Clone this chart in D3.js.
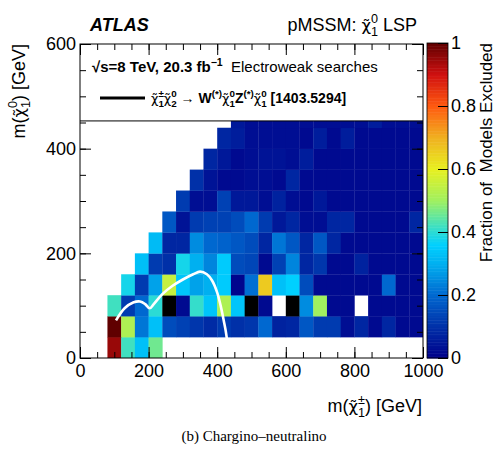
<!DOCTYPE html>
<html>
<head>
<meta charset="utf-8">
<script src="https://cdn.jsdelivr.net/npm/d3@7"></script>
<style>
  body { margin: 0; background: #fff; }
  text { font-family: "Liberation Sans", Arial, sans-serif; white-space: pre; }
</style>
</head>
<body>
<svg id="chart" width="498" height="451"></svg>
<script>
const _ = null;   // empty bin (white)
const K = -1;     // bin drawn black in the original

// lower edges of the 40 GeV bins
const binX = [0,40,80,120,160,200,240,280,320,360,400,440,480,520,560,600,640,680,720,760,800,840,880,920,960];
const binY = [0,40,80,120,160,200,240,280,320,360,400,440];

// fraction of models excluded, one array per m(chi1^0) bin
const row0   = [_,_,.95,.42,.33,.46,_,_,_,_,_,_,_,_,_,_,_,_,_,_,_,_,_,_,_];
const row40  = [_,_,1.0,.52,.22,.33,.15,.13,.11,.09,.12,.10,.11,.20,.07,.08,.17,.12,.12,.03,.08,.02,.08,.02,.02];
const row80  = [_,_,.42,.12,.20,.40,K,.02,.41,.34,.52,.34,K,.02,_,K,.25,.50,.02,.02,_,.02,.02,.02,.02];
const row120 = [_,_,_,.38,.12,.28,.55,.34,.28,.30,.35,.01,.21,.66,.33,.36,.15,.02,.02,.02,.02,.02,.20,.02,.02];
const row160 = [_,_,_,_,.33,.12,.10,.38,.30,.24,.35,.15,.14,.02,.13,.24,.08,.11,.02,.02,.07,.02,.02,.02,.02];
const row200 = [_,_,_,_,_,.32,.08,.08,.25,.20,.19,.17,.15,.08,.22,.17,.08,.17,.08,.02,.02,.02,.02,.02,.02];
const row240 = [_,_,_,_,_,_,.17,.04,.12,.13,.13,.15,.20,.12,.05,.08,.03,.03,.08,.08,.02,.02,.02,.02,.08];
const row280 = [_,_,_,_,_,_,_,.12,.03,.03,.13,.05,.05,.03,.07,.03,.02,.05,.02,.02,.02,.02,.02,.02,.02];
const row320 = [_,_,_,_,_,_,_,_,.10,.04,.02,.02,.03,.03,.02,.08,.02,.02,.02,.02,.02,.02,.02,.02,.02];
const row360 = [_,_,_,_,_,_,_,_,_,.08,.05,.02,.03,.04,.04,.03,.06,.02,.02,.02,.02,.02,.02,.02,.02];
const row400 = [_,_,_,_,_,_,_,_,_,_,.08,.06,.03,.03,.03,.03,.02,.06,.02,.06,.02,.02,.02,.02,.02];
const row440 = [_,_,_,_,_,_,_,_,_,_,_,.05,.03,.03,.03,.03,.03,.03,.03,.03,.03,.06,.03,.03,.03];
const rows = [row0,row40,row80,row120,row160,row200,row240,row280,row320,row360,row400,row440];

// chi1+- chi2^0 -> W Z limit contour [1403.5294]
const limitM1 = [105,130,155,175,190,203,215,240,270,300,330,350,370,385,400,410,418,424,428];
const limitM0 = [72,95,106,108,103,95,103,122,138,150,160,165,160,148,125,100,75,55,38];

const xMajor = [0,200,400,600,800,1000];
const yMajor = [0,200,400,600];
const zTicks = [0,0.2,0.4,0.6,0.8,1];

const svg = d3.select('#chart');
const L = 80, R = 423, T = 44, B = 358;

const x = d3.scaleLinear().domain([0,1000]).range([L,R]);
const y = d3.scaleLinear().domain([0,600]).range([B,T]);
const z = d3.scaleLinear()
  .domain([0,.1,.2,.3,.36,.42,.5,.6,.7,.8,.9,1])
  .range(['#00008a','#0030a8','#0068d0','#00b0f0','#00d0ff','#40e0c0','#a0f060','#e8f020','#f0b020','#ff5a10','#d01010','#600000'])
  .clamp(true);

svg.append('clipPath').attr('id','plotClip')
  .append('rect').attr('x',L).attr('y',T).attr('width',R-L).attr('height',B-T);

// bins
const cells = [];
rows.forEach((r,i) => r.forEach((v,j) => { if (v !== null) cells.push({x0: binX[j], y0: binY[i], v}); }));
const bw = 40;

svg.append('g').attr('clip-path','url(#plotClip)')
  .selectAll('rect').data(cells).enter().append('rect')
  .attr('x', d => x(d.x0))
  .attr('y', d => y(d.y0 + bw))
  .attr('width', d => x(d.x0 + bw) - x(d.x0) + 0.3)
  .attr('height', d => y(d.y0) - y(d.y0 + bw) + 0.3)
  .attr('fill', d => d.v === K ? '#000' : z(d.v));

// limit contour
svg.append('path')
  .datum(limitM1.map((m,i) => [m, limitM0[i]]))
  .attr('fill','none').attr('stroke','#fff').attr('stroke-width',2.6)
  .attr('d', d3.line().x(d => x(d[0])).y(d => y(d[1])).curve(d3.curveCatmullRom));

// legend box
const legBottom = y(453);
svg.append('rect').attr('x',L).attr('y',T).attr('width',R-L).attr('height',legBottom-T)
  .attr('fill','#fff');
svg.append('line').attr('x1',L).attr('x2',R).attr('y1',legBottom).attr('y2',legBottom)
  .attr('stroke','#000').attr('stroke-width',1);

// text with sub/superscripts: parts are [text, 'sub'|'sup'|'', dx in em, 'chi']
function rich(sel, px, py, parts, size, weight) {
  const t = sel.append('text').attr('x',px).attr('y',py)
    .style('font-size', size+'px').style('font-weight', weight || 'normal');
  let shift = 0;
  parts.forEach(p => {
    const s = p[1] || '';
    const target = s === 'sub' ? 0.3*size : s === 'sup' ? -0.42*size : 0;
    const ts = t.append('tspan').attr('dy', target - shift).text(p[0]);
    if (s) ts.style('font-size', (size*0.7)+'px');
    if (p[2]) ts.attr('dx', p[2]*size);
    if (p[3] === 'chi') ts.style('font-family','"DejaVu Sans", sans-serif').style('font-size', (size*0.92)+'px')
      .style('font-weight','normal');
    shift = target;
  });
  return t;
}
const chi = ['χ\u0303', '', 0, 'chi'];

// axes: ticks inside, on all four sides
function ticksX(gen, yy, len, vals, labels) {
  const g = svg.append('g').attr('transform', `translate(0,${yy})`)
    .call(gen(x).tickValues(vals).tickSize(len).tickPadding(6).tickFormat(labels ? d => d : ''));
  g.select('.domain').remove();
  g.selectAll('text').style('font-size','18px').style('font-family','Liberation Sans, Arial, sans-serif');
}
function ticksY(gen, xx, len, vals, labels) {
  const g = svg.append('g').attr('transform', `translate(${xx},0)`)
    .call(gen(y).tickValues(vals).tickSize(len).tickPadding(4).tickFormat(labels ? d => d : ''));
  g.select('.domain').remove();
  g.selectAll('text').style('font-size','18px').style('font-family','Liberation Sans, Arial, sans-serif');
}
const xMinor = d3.range(0,1001,50), yMinor = d3.range(0,601,50);
ticksX(d3.axisBottom, B, -11, xMajor, true);
ticksX(d3.axisBottom, B, -6, xMinor, false);
ticksX(d3.axisTop, T, -11, xMajor, false);
ticksX(d3.axisTop, T, -6, xMinor, false);
ticksY(d3.axisLeft, L, -11, yMajor, true);
ticksY(d3.axisLeft, L, -6, yMinor, false);
ticksY(d3.axisRight, R, -11, yMajor, false);
ticksY(d3.axisRight, R, -6, yMinor, false);

svg.append('rect').attr('x',L).attr('y',T).attr('width',R-L).attr('height',B-T)
  .attr('fill','none').attr('stroke','#000').attr('stroke-width',1);

// colour bar
const cbL = 427, cbR = 448;
const zy = d3.scaleLinear().domain([0,1]).range([B,T-1]);
svg.append('g').selectAll('rect').data(d3.range(0,1,0.005)).enter().append('rect')
  .attr('x',cbL).attr('width',cbR-cbL)
  .attr('y', d => zy(d+0.005)).attr('height', d => zy(d) - zy(d+0.005) + 0.5)
  .attr('fill', d => z(d+0.0025));
svg.append('rect').attr('x',cbL).attr('y',zy(1)).attr('width',cbR-cbL).attr('height',B-zy(1))
  .attr('fill','none').attr('stroke','#000').attr('stroke-width',0.8);
const zg = svg.append('g').attr('transform',`translate(${cbR},0)`)
  .call(d3.axisRight(zy).tickValues(zTicks).tickSize(-10).tickPadding(3).tickFormat(d => String(d)));
zg.select('.domain').remove();
zg.selectAll('text').style('font-size','18px').style('font-family','Liberation Sans, Arial, sans-serif');

// titles
svg.append('text').attr('x',90).attr('y',31).text('ATLAS')
  .style('font-size','18px').style('font-weight','bold').style('font-style','italic');
rich(svg, 417, 31, [['pMSSM: '],chi,['1','sub'],['0','sup',-0.39],[' LSP']], 18)
  .attr('text-anchor','end');

rich(svg, 0, 0, [['m('],chi,['1','sub'],['0','sup',-0.39],[') [GeV]']], 18)
  .attr('text-anchor','end').attr('transform','translate(25,44) rotate(-90)');
rich(svg, 422, 412, [['m('],chi,['1','sub'],['±','sup',-0.39],[') [GeV]']], 18)
  .attr('text-anchor','end');
svg.append('text').attr('transform','translate(492,43) rotate(-90)')
  .attr('text-anchor','end').style('font-size','17px').text('Fraction of  Models Excluded');

// legend contents
rich(svg, 92, 72, [['√s=8 TeV, 20.3 fb'],['−1','sup']], 15, 'bold');
svg.append('text').attr('x',231).attr('y',72).style('font-size','15px').text('Electroweak searches');
svg.append('line').attr('x1',100).attr('x2',145).attr('y1',98).attr('y2',98)
  .attr('stroke','#000').attr('stroke-width',3);
rich(svg, 151, 103, [
  chi,['1','sub'],['±','sup',-0.39],chi,['2','sub'],['0','sup',-0.39],
  [' → W'],['(*)','sup'],chi,['1','sub'],['0','sup',-0.39],
  ['Z'],['(*)','sup'],chi,['1','sub'],['0','sup',-0.39],[' [1403.5294]']
], 14, 'bold');

svg.append('text').attr('x',254).attr('y',441).attr('text-anchor','middle')
  .style('font-family','"Liberation Serif", "Times New Roman", serif').style('font-size','15px')
  .text('(b) Chargino–neutralino');
</script>
</body>
</html>
